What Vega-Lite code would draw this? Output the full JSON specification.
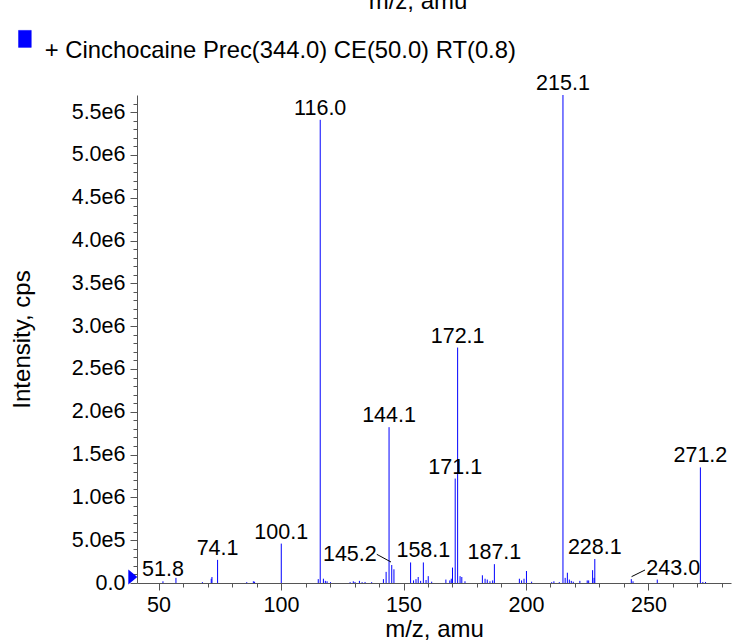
{
  "$schema": "https://vega.github.io/schema/vega-lite/v6.json",
  "width": 594,
  "height": 488,
  "autosize": {"type": "none"},
  "padding": {"left": 137, "top": 95, "right": 2, "bottom": 59},
  "background": "white",
  "title": {"text": "m/z, amu", "fontSize": 24, "font": "Liberation Sans", "fontWeight": "normal", "color": "black", "anchor": "middle", "dx": -16, "dy": 10, "baseline": "alphabetic"},
  "config": {"view": {"stroke": null}, "font": "Liberation Sans"},
  "datasets": {
    "peaks": [
      {"mz": 51.8, "intensity": 20000},
      {"mz": 57.1, "intensity": 60000},
      {"mz": 67.9, "intensity": 10000},
      {"mz": 71.5, "intensity": 50000},
      {"mz": 71.8, "intensity": 70000},
      {"mz": 74.1, "intensity": 270000},
      {"mz": 86.0, "intensity": 10000},
      {"mz": 88.7, "intensity": 20000},
      {"mz": 89.2, "intensity": 15000},
      {"mz": 100.1, "intensity": 460000},
      {"mz": 115.2, "intensity": 45000},
      {"mz": 116.0, "intensity": 5410000},
      {"mz": 117.3, "intensity": 50000},
      {"mz": 118.1, "intensity": 25000},
      {"mz": 118.8, "intensity": 20000},
      {"mz": 120.2, "intensity": 10000},
      {"mz": 128.2, "intensity": 10000},
      {"mz": 129.5, "intensity": 20000},
      {"mz": 130.2, "intensity": 12000},
      {"mz": 132.0, "intensity": 25000},
      {"mz": 133.1, "intensity": 10000},
      {"mz": 134.3, "intensity": 12000},
      {"mz": 137.0, "intensity": 10000},
      {"mz": 141.8, "intensity": 45000},
      {"mz": 142.9, "intensity": 130000},
      {"mz": 144.1, "intensity": 1820000},
      {"mz": 145.2, "intensity": 210000},
      {"mz": 146.1, "intensity": 160000},
      {"mz": 152.9, "intensity": 240000},
      {"mz": 154.1, "intensity": 30000},
      {"mz": 155.1, "intensity": 45000},
      {"mz": 156.0, "intensity": 70000},
      {"mz": 157.0, "intensity": 25000},
      {"mz": 158.1, "intensity": 240000},
      {"mz": 159.2, "intensity": 35000},
      {"mz": 160.1, "intensity": 80000},
      {"mz": 161.5, "intensity": 15000},
      {"mz": 167.3, "intensity": 40000},
      {"mz": 168.9, "intensity": 30000},
      {"mz": 169.5, "intensity": 50000},
      {"mz": 170.0, "intensity": 180000},
      {"mz": 171.1, "intensity": 1220000},
      {"mz": 172.1, "intensity": 2750000},
      {"mz": 173.1, "intensity": 80000},
      {"mz": 173.8, "intensity": 70000},
      {"mz": 175.1, "intensity": 20000},
      {"mz": 182.2, "intensity": 90000},
      {"mz": 183.3, "intensity": 50000},
      {"mz": 184.2, "intensity": 40000},
      {"mz": 185.3, "intensity": 20000},
      {"mz": 186.4, "intensity": 30000},
      {"mz": 187.1, "intensity": 220000},
      {"mz": 197.3, "intensity": 50000},
      {"mz": 198.2, "intensity": 30000},
      {"mz": 199.2, "intensity": 50000},
      {"mz": 200.2, "intensity": 140000},
      {"mz": 202.3, "intensity": 15000},
      {"mz": 210.5, "intensity": 10000},
      {"mz": 211.4, "intensity": 20000},
      {"mz": 213.6, "intensity": 10000},
      {"mz": 215.1, "intensity": 5700000},
      {"mz": 216.0, "intensity": 60000},
      {"mz": 216.9, "intensity": 120000},
      {"mz": 217.7, "intensity": 40000},
      {"mz": 218.5, "intensity": 25000},
      {"mz": 219.3, "intensity": 15000},
      {"mz": 222.0, "intensity": 25000},
      {"mz": 225.0, "intensity": 30000},
      {"mz": 225.6, "intensity": 30000},
      {"mz": 227.2, "intensity": 150000},
      {"mz": 227.8, "intensity": 60000},
      {"mz": 228.1, "intensity": 280000},
      {"mz": 243.0, "intensity": 45000},
      {"mz": 243.7, "intensity": 20000},
      {"mz": 253.6, "intensity": 40000},
      {"mz": 271.2, "intensity": 1350000},
      {"mz": 272.2, "intensity": 12000},
      {"mz": 273.3, "intensity": 12000}
    ],
    "labels": [
      {"mz": 51.8, "intensity": 20000, "label": "51.8", "side": "top"},
      {"mz": 74.1, "intensity": 270000, "label": "74.1", "side": "top"},
      {"mz": 100.1, "intensity": 460000, "label": "100.1", "side": "top"},
      {"mz": 116.0, "intensity": 5410000, "label": "116.0", "side": "top"},
      {"mz": 144.1, "intensity": 1820000, "label": "144.1", "side": "top"},
      {"mz": 145.2, "intensity": 210000, "label": "145.2", "side": "left"},
      {"mz": 158.1, "intensity": 240000, "label": "158.1", "side": "top"},
      {"mz": 171.1, "intensity": 1220000, "label": "171.1", "side": "top"},
      {"mz": 172.1, "intensity": 2750000, "label": "172.1", "side": "top"},
      {"mz": 187.1, "intensity": 220000, "label": "187.1", "side": "top"},
      {"mz": 215.1, "intensity": 5700000, "label": "215.1", "side": "top"},
      {"mz": 228.1, "intensity": 280000, "label": "228.1", "side": "top"},
      {"mz": 243.0, "intensity": 45000, "label": "243.0", "side": "right"},
      {"mz": 271.2, "intensity": 1350000, "label": "271.2", "side": "top"}
    ],
    "leaders": [
      {"mz": 139.1, "intensity": 335000, "mz2": 144.9, "intensity2": 245000},
      {"mz": 243.1, "intensity": 74000, "mz2": 248.6, "intensity2": 152000}
    ],
    "marker": [
      {"mz": 39.5, "intensity": 70000}
    ]
  },
  "encoding": {
    "x": {
      "field": "mz",
      "type": "quantitative",
      "title": "m/z, amu",
      "scale": {"domain": [41.2, 283.7], "nice": false, "zero": false},
      "axis": {
        "values": [50, 60, 70, 80, 90, 100, 110, 120, 130, 140, 150, 160, 170, 180, 190, 200, 210, 220, 230, 240, 250, 260, 270, 280],
        "labelExpr": "datum.value % 50 === 0 ? datum.label : ''",
        "format": "d",
        "grid": false,
        "domainColor": "#555",
        "tickColor": "#555",
        "tickSize": {"condition": {"test": "datum.value % 50 === 0", "value": 7}, "value": 4},
        "labelFontSize": 21.5,
        "labelFont": "Liberation Sans",
        "labelColor": "black",
        "labelPadding": 4,
        "labelOverlap": false,
        "labelFlush": false,
        "titleFontSize": 24,
        "titleFont": "Liberation Sans",
        "titleFontWeight": "normal",
        "titleColor": "black",
        "titlePadding": 2
      }
    },
    "y": {
      "field": "intensity",
      "type": "quantitative",
      "title": "Intensity, cps",
      "scale": {"domain": [0, 5700000], "nice": false},
      "axis": {
        "values": [0, 100000, 200000, 300000, 400000, 500000, 600000, 700000, 800000, 900000, 1000000, 1100000, 1200000, 1300000, 1400000, 1500000, 1600000, 1700000, 1800000, 1900000, 2000000, 2100000, 2200000, 2300000, 2400000, 2500000, 2600000, 2700000, 2800000, 2900000, 3000000, 3100000, 3200000, 3300000, 3400000, 3500000, 3600000, 3700000, 3800000, 3900000, 4000000, 4100000, 4200000, 4300000, 4400000, 4500000, 4600000, 4700000, 4800000, 4900000, 5000000, 5100000, 5200000, 5300000, 5400000, 5500000, 5600000],
        "labelExpr": "datum.value % 500000 === 0 ? (datum.value === 0 ? '0.0' : replace(format(datum.value, '.1e'), 'e+', 'e')) : ''",
        "grid": false,
        "domainColor": "#555",
        "tickColor": "#555",
        "tickSize": {"condition": {"test": "datum.value % 500000 === 0", "value": 7}, "value": 4},
        "labelFontSize": 21.5,
        "labelFont": "Liberation Sans",
        "labelColor": "black",
        "labelPadding": 5,
        "labelOverlap": false,
        "labelFlush": false,
        "titleFontSize": 24,
        "titleFont": "Liberation Sans",
        "titleFontWeight": "normal",
        "titleColor": "black",
        "titlePadding": 37
      }
    }
  },
  "layer": [
    {
      "data": {"name": "peaks"},
      "mark": {"type": "rule", "strokeWidth": 1},
      "encoding": {
        "y2": {"datum": 0},
        "color": {
          "datum": "+ Cinchocaine Prec(344.0) CE(50.0) RT(0.8)",
          "type": "nominal",
          "scale": {"range": ["#0000ff"]},
          "legend": {
            "orient": "none",
            "legendX": -124,
            "legendY": -68,
            "title": null,
            "padding": 0,
            "symbolType": "M -0.75,-1 L 0.75,-1 L 0.75,1 L -0.75,1 Z",
            "symbolSize": 289,
            "symbolFillColor": "#0000ff",
            "symbolStrokeColor": "#333333",
            "symbolStrokeWidth": 0.5,
            "symbolOpacity": 1,
            "labelFontSize": 23.8,
            "labelFont": "Liberation Sans",
            "labelColor": "black",
            "labelBaseline": "top",
            "labelLimit": 0,
            "labelOffset": 8
          }
        }
      }
    },
    {
      "data": {"name": "leaders"},
      "mark": {"type": "rule", "color": "black", "strokeWidth": 1},
      "encoding": {
        "x2": {"field": "mz2"},
        "y2": {"field": "intensity2"}
      }
    },
    {
      "data": {"name": "labels"},
      "transform": [{"filter": "datum.side === 'top'"}],
      "mark": {"type": "text", "align": "center", "baseline": "alphabetic", "dy": -5, "fontSize": 21.5, "font": "Liberation Sans", "color": "black"},
      "encoding": {"text": {"field": "label"}}
    },
    {
      "data": {"name": "labels"},
      "transform": [{"filter": "datum.side === 'left'"}],
      "mark": {"type": "text", "align": "right", "baseline": "alphabetic", "dx": -15, "dy": -4, "fontSize": 21.5, "font": "Liberation Sans", "color": "black"},
      "encoding": {"text": {"field": "label"}}
    },
    {
      "data": {"name": "labels"},
      "transform": [{"filter": "datum.side === 'right'"}],
      "mark": {"type": "text", "align": "left", "baseline": "alphabetic", "dx": 15, "dy": -4, "fontSize": 21.5, "font": "Liberation Sans", "color": "black"},
      "encoding": {"text": {"field": "label"}}
    },
    {
      "data": {"name": "marker"},
      "mark": {"type": "point", "shape": "M -0.6,-1 L 0.6,0 L -0.6,1 Z", "filled": true, "size": 225, "color": "#0000ff", "opacity": 1}
    }
  ]
}
